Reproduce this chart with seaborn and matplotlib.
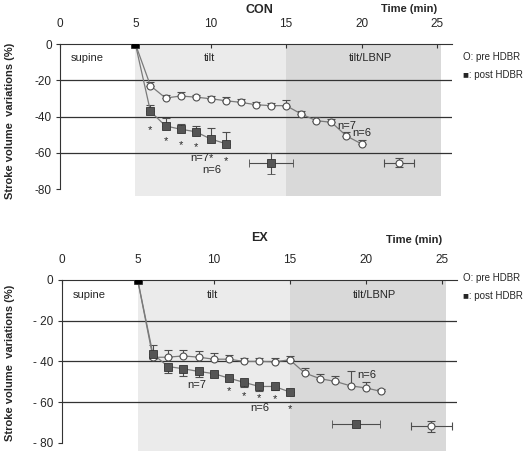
import matplotlib
matplotlib.use("Agg")
import matplotlib.pyplot as plt
import seaborn as sns

sns.set_style("white")
plt.rcParams['font.family'] = ['Liberation Sans', 'DejaVu Sans']

# ---- CON panel data (time in min, stroke volume variation in %)
con_t_pre = [5, 6, 7, 8, 9, 10, 11, 12, 13, 14, 15, 16, 17, 18, 19, 20]
con_pre = [0, -23, -29.8, -28.7, -29.3, -30.2, -31.3, -32.2, -33.5, -34, -34, -38.6, -42.3, -43.2, -50.7, -55.1]
con_pre_err = [0, 1.8, 1.6, 2, 1.4, 1.6, 2.2, 1.8, 1.5, 1.6, 2.9, 1.8, 2, 2, 2.2, 2.2]
con_t_post = [5, 6, 7, 8, 9, 10, 11]
con_post = [0, -37.2, -45.2, -47, -48.4, -52.4, -55]
con_post_err = [0, 3.5, 4.4, 3, 3.1, 6, 6.2]
con_end_pre = (22.5, -65.5, 1.0, 2.5)     # x, y, xerr, yerr
con_end_post = (14.0, -65.8, 1.45, 5.7)
con_star_t = [6, 7, 8, 9, 10, 11]
con_star_y = [-47.4, -53.5, -55.7, -57, -62.7, -64.4]
con_n_labels = [(9.25, -63, "n=7"), (10.05, -69.5, "n=6"), (19.0, -45, "n=7"), (20.0, -49, "n=6")]

# ---- EX panel data
ex_t_pre = [5, 6, 7, 8, 9, 10, 11, 12, 13, 14, 15, 16, 17, 18, 19, 20, 21]
ex_pre = [0, -38, -37.9, -37.3, -37.9, -38.9, -38.9, -40, -40, -40.2, -39.2, -45.7, -48.5, -49.8, -52, -53, -54.7]
ex_pre_err = [0, 6, 3.3, 3, 3, 3, 2, 1.6, 1.6, 2, 2, 2.7, 2.3, 2.5, 7.3, 2.8, 1.2]
ex_t_post = [5, 6, 7, 8, 9, 10, 11, 12, 13, 14, 15]
ex_post = [0, -36.4, -42.5, -43.6, -44.9, -46, -48.2, -50.3, -52.3, -52.3, -55]
ex_post_err = [0, 2.5, 3.3, 3.4, 2.8, 1.5, 1.3, 2.5, 2, 1.5, 1.5]
ex_end_pre = (24.3, -71.9, 1.35, 2.6)
ex_end_post = (19.35, -70.7, 1.6, 1.5)
ex_star_t = [11, 12, 13, 14, 15]
ex_star_y = [-54.7, -57.2, -58, -58.5, -63.4]
ex_n_labels = [(8.9, -51.5, "n=7"), (13.05, -63, "n=6"), (20.1, -46.6, "n=6")]

x_ticks = [0, 5, 10, 15, 20, 25]
y_ticks = [0, -20, -40, -60, -80]
con_ylabels = ["0", "-20", "-40", "-60", "-80"]
ex_ylabels = ["0", "- 20", "- 40", "- 60", "- 80"]

LINE = "#7a7a7a"
DARK = "#4d4d4d"

fig = plt.figure(figsize=(5.30, 4.51), dpi=100)


def panel(ax, t_pre, pre, pre_err, t_post, post, post_err, post_down,
          end_pre, end_post, star_t, star_y, n_labels, ylabels):
    ax.set_xlim(0, 26)
    ax.set_ylim(-84, 0)
    ax.axvspan(5, 15, color="#ebebeb", lw=0, zorder=0)
    ax.axvspan(15, 25.3, color="#d9d9d9", lw=0, zorder=0)
    for g in [-20, -40, -60]:
        ax.axhline(g, color="#333333", lw=0.9, zorder=1)

    # pre HDBR (open circles), error bars upward
    ax.errorbar(t_pre, pre, yerr=[[0] * len(pre_err), pre_err], fmt="none",
                ecolor=DARK, elinewidth=0.8, capsize=3, capthick=0.8, zorder=2)
    sns.lineplot(x=t_pre, y=pre, ax=ax, color=LINE, lw=0.9, marker="o", markersize=5,
                 markerfacecolor="white", markeredgecolor=DARK, markeredgewidth=0.8, zorder=3)
    # post HDBR (filled squares)
    if post_down:
        yerr = [post_err, [0] * len(post_err)]
    else:
        yerr = [[0] * len(post_err), post_err]
    ax.errorbar(t_post, post, yerr=yerr, fmt="none",
                ecolor=DARK, elinewidth=0.8, capsize=3, capthick=0.8, zorder=2)
    sns.lineplot(x=t_post, y=post, ax=ax, color=LINE, lw=0.9, marker="s", markersize=5.5,
                 markerfacecolor="#555555", markeredgecolor="#333333", markeredgewidth=0.6, zorder=4)
    # black starting point
    ax.plot([5], [0], marker="s", ms=5, color="black", zorder=5)

    # end-of-test points
    ax.errorbar([end_pre[0]], [end_pre[1]], xerr=end_pre[2], yerr=end_pre[3], fmt="o", ms=5,
                mfc="white", mec=DARK, mew=0.8, ecolor=DARK, elinewidth=0.8, capsize=3, zorder=3)
    ax.errorbar([end_post[0]], [end_post[1]], xerr=end_post[2], yerr=end_post[3], fmt="s", ms=5.5,
                mfc="#555555", mec="#333333", mew=0.6, ecolor=DARK, elinewidth=0.8, capsize=3, zorder=3)

    for t, y in zip(star_t, star_y):
        ax.text(t, y, "*", ha="center", va="center", fontsize=8, zorder=6)
    for t, y, s in n_labels:
        ax.text(t, y, s, ha="center", va="center", fontsize=8, zorder=6)

    ax.text(1.8, -7.5, "supine", ha="center", va="center", fontsize=8)
    ax.text(9.9, -7.5, "tilt", ha="center", va="center", fontsize=8)
    ax.text(20.6, -7.5, "tilt/LBNP", ha="center", va="center", fontsize=8)

    ax.xaxis.tick_top()
    ax.set_xticks(x_ticks)
    ax.set_xticklabels([str(v) for v in x_ticks])
    ax.set_yticks(y_ticks)
    ax.set_yticklabels(ylabels)
    ax.tick_params(axis="x", top=True, bottom=False, direction="in", length=3,
                   pad=10, labelsize=8.5, color="#333333")
    ax.tick_params(axis="y", left=True, direction="out", length=3, pad=3,
                   labelsize=8.5, color="#333333")
    for side in ["right", "bottom"]:
        ax.spines[side].set_visible(False)
    ax.spines["top"].set_color("#333333")
    ax.spines["left"].set_color("#333333")
    ax.spines["left"].set_bounds(-80, 0)
    ax.set_xlabel("")
    ax.set_ylabel("")
    ax.patch.set_alpha(0)


def px(x, y):
    return x / 530, 1 - y / 451


ax1 = fig.add_axes([60 / 530, 1 - 196.3 / 451, 392 / 530, 152.3 / 451])
panel(ax1, con_t_pre, con_pre, con_pre_err, con_t_post, con_post, con_post_err, False,
      con_end_pre, con_end_post, con_star_t, con_star_y, con_n_labels, con_ylabels)

ax2 = fig.add_axes([61.7 / 530, 0.0, 395.2 / 530, 1 - 280 / 451])
panel(ax2, ex_t_pre, ex_pre, ex_pre_err, ex_t_post, ex_post, ex_post_err, True,
      ex_end_pre, ex_end_post, ex_star_t, ex_star_y, ex_n_labels, ex_ylabels)

# titles and annotations in figure coordinates
fig.text(*px(259, 10), "CON", ha="center", va="center", fontsize=9, fontweight="bold")
fig.text(*px(409, 9), "Time (min)", ha="center", va="center", fontsize=8, fontweight="bold")
fig.text(*px(259, 238), "EX", ha="center", va="center", fontsize=9, fontweight="bold")
fig.text(*px(414, 240), "Time (min)", ha="center", va="center", fontsize=8, fontweight="bold")

for yc in [121, 363]:
    fig.text(*px(10.5, yc), "Stroke volume  variations (%)", rotation=90,
             ha="center", va="center", fontsize=8, fontweight="bold")

for y0 in [57, 278]:
    fig.text(*px(463, y0), "O: pre HDBR", ha="left", va="center", fontsize=7)
    fig.text(*px(463, y0 + 18), "\u25a0: post HDBR", ha="left", va="center", fontsize=7)

fig.savefig("out.png", dpi=100)
